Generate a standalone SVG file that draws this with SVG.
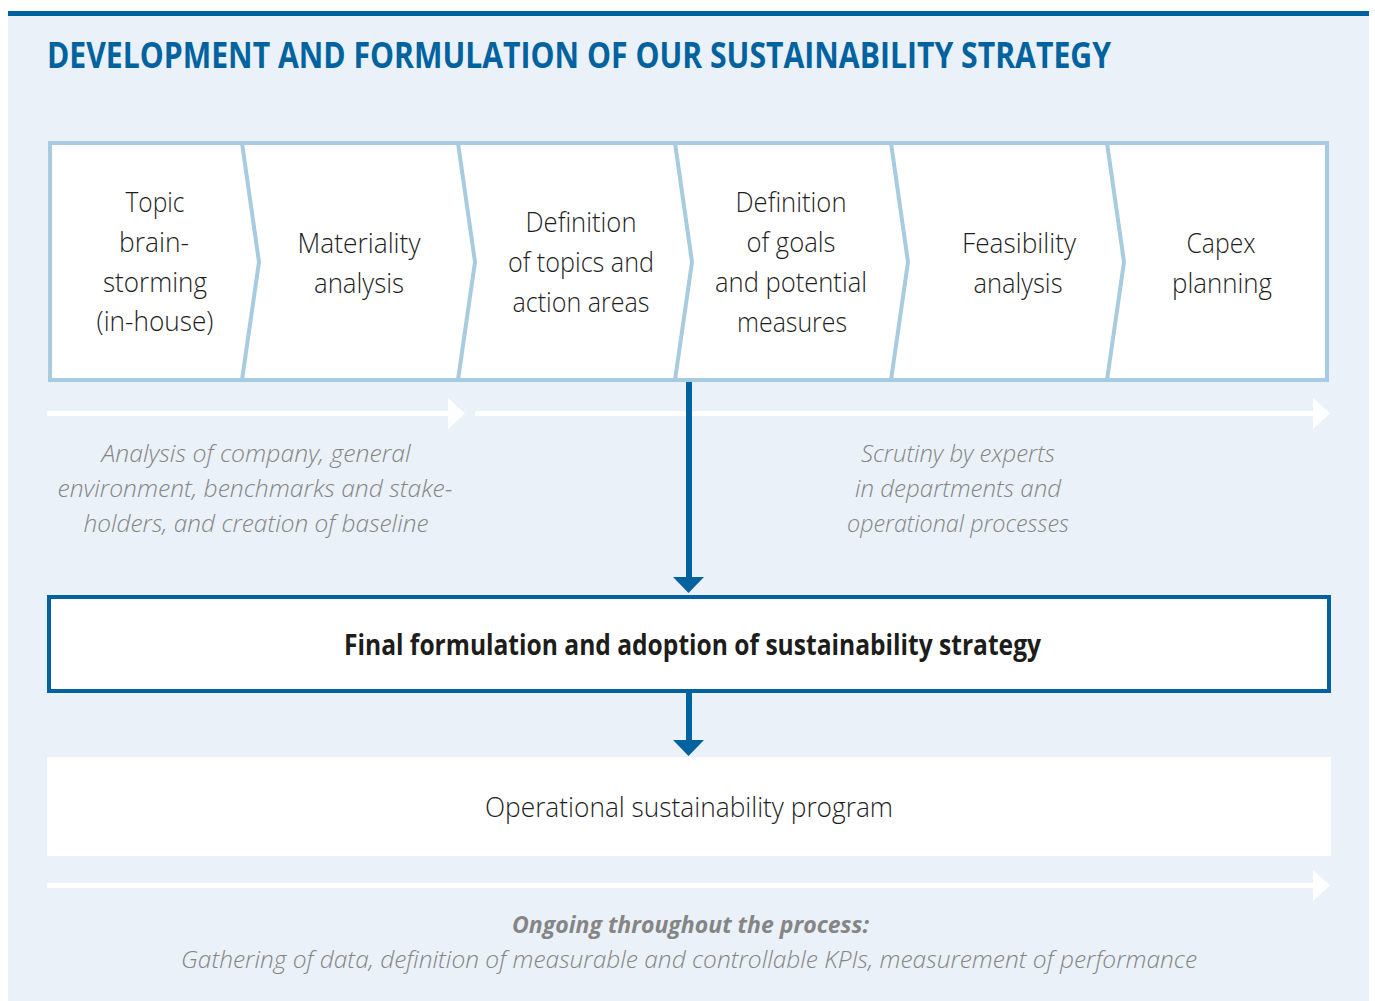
<svg xmlns="http://www.w3.org/2000/svg" width="1375" height="1001" viewBox="0 0 1375 1001">
<style>
.bg{fill:#eaf1f8}
.step{font-family:"Open Sans","Noto Sans",sans-serif;font-size:28px;font-weight:300;fill:#1e1e1e;text-anchor:middle}
.note{font-family:"Open Sans","Noto Sans",sans-serif;font-size:24px;font-style:italic;font-weight:300;fill:#858585;text-anchor:middle}
.notebold{font-weight:bold}
.title{font-family:"Open Sans","Noto Sans",sans-serif;font-size:35px;font-weight:bold;fill:#0063a0}
.bold{font-family:"Open Sans","Noto Sans",sans-serif;font-size:28px;font-weight:bold;fill:#1d1d1b;text-anchor:middle}
.div{fill:none;stroke:#a7cbe1;stroke-width:4}
.white{fill:#ffffff}
.dk{fill:#0063a0}
</style>
<rect class="bg" x="8" y="14" width="1361" height="987"/>
<rect x="8" y="11" width="1361" height="5" fill="#0063a0"/>
<text class="title" x="47" y="68" textLength="1064" lengthAdjust="spacingAndGlyphs">DEVELOPMENT AND FORMULATION OF OUR SUSTAINABILITY STRATEGY</text>

<g id="process">
<rect x="50" y="143" width="1277" height="237" fill="#ffffff" stroke="#a7cbe1" stroke-width="4"/>
<polyline class="div" points="242,143 259,262 242,380"/>
<polyline class="div" points="458,143 475,262 458,380"/>
<polyline class="div" points="675,143 692,262 675,380"/>
<polyline class="div" points="891,143 908,262 891,380"/>
<polyline class="div" points="1107,143 1124,262 1107,380"/>
</g>
<g id="step1">
<text class="step" x="155" y="212" textLength="59" lengthAdjust="spacingAndGlyphs">Topic</text>
<text class="step" x="154" y="252" textLength="70" lengthAdjust="spacingAndGlyphs">brain-</text>
<text class="step" x="155" y="292" textLength="104" lengthAdjust="spacingAndGlyphs">storming</text>
<text class="step" x="155" y="331" textLength="117" lengthAdjust="spacingAndGlyphs">(in-house)</text>
</g>
<g id="step2">
<text class="step" x="359" y="253" textLength="123" lengthAdjust="spacingAndGlyphs">Materiality</text>
<text class="step" x="359" y="293" textLength="90" lengthAdjust="spacingAndGlyphs">analysis</text>
</g>
<g id="step3">
<text class="step" x="581" y="232" textLength="111" lengthAdjust="spacingAndGlyphs">Definition</text>
<text class="step" x="581" y="272" textLength="146" lengthAdjust="spacingAndGlyphs">of topics and</text>
<text class="step" x="581" y="312" textLength="137" lengthAdjust="spacingAndGlyphs">action areas</text>
</g>
<g id="step4">
<text class="step" x="791" y="212" textLength="111" lengthAdjust="spacingAndGlyphs">Definition</text>
<text class="step" x="791" y="252" textLength="89" lengthAdjust="spacingAndGlyphs">of goals</text>
<text class="step" x="791" y="292" textLength="152" lengthAdjust="spacingAndGlyphs">and potential</text>
<text class="step" x="792" y="332" textLength="110" lengthAdjust="spacingAndGlyphs">measures</text>
</g>
<g id="step5">
<text class="step" x="1019" y="253" textLength="114" lengthAdjust="spacingAndGlyphs">Feasibility</text>
<text class="step" x="1018" y="293" textLength="89" lengthAdjust="spacingAndGlyphs">analysis</text>
</g>
<g id="step6">
<text class="step" x="1221" y="253" textLength="69" lengthAdjust="spacingAndGlyphs">Capex</text>
<text class="step" x="1222" y="293" textLength="100" lengthAdjust="spacingAndGlyphs">planning</text>
</g>

<g id="connectors">
<rect class="white" x="47" y="411" width="402" height="5"/>
<polygon class="white" points="448,398 465,413.5 448,429"/>
<rect class="white" x="475" y="411" width="839" height="5"/>
<polygon class="white" points="1313,398 1330,413.5 1313,429"/>
<rect class="dk" x="686" y="382" width="6" height="197"/>
<polygon class="dk" points="673,577 704,577 688.5,593"/>
<rect class="dk" x="686" y="693" width="6" height="48"/>
<polygon class="dk" points="673,740 704,740 688.5,756"/>
<rect class="white" x="47" y="883" width="1267" height="5"/>
<polygon class="white" points="1313,870 1330,885.5 1313,901"/>
</g>

<g id="notes">
<text class="note" x="256" y="462" textLength="309" lengthAdjust="spacingAndGlyphs">Analysis of company, general</text>
<text class="note" x="255" y="497" textLength="395" lengthAdjust="spacingAndGlyphs">environment, benchmarks and stake-</text>
<text class="note" x="256" y="532" textLength="345" lengthAdjust="spacingAndGlyphs">holders, and creation of baseline</text>
<text class="note" x="958" y="462" textLength="194" lengthAdjust="spacingAndGlyphs">Scrutiny by experts</text>
<text class="note" x="958" y="497" textLength="206" lengthAdjust="spacingAndGlyphs">in departments and</text>
<text class="note" x="958" y="532" textLength="222" lengthAdjust="spacingAndGlyphs">operational processes</text>
</g>

<g id="final">
<rect x="49" y="597" width="1280" height="94" fill="#ffffff" stroke="#0063a0" stroke-width="4"/>
<text class="bold" x="692.5" y="655" textLength="697" lengthAdjust="spacingAndGlyphs">Final formulation and adoption of sustainability strategy</text>
</g>

<g id="program">
<rect x="47" y="757" width="1284" height="99" fill="#ffffff"/>
<text class="step" x="689" y="817" textLength="408" lengthAdjust="spacingAndGlyphs">Operational sustainability program</text>
</g>

<g id="ongoing">
<text class="note notebold" x="690.5" y="933" textLength="357" lengthAdjust="spacingAndGlyphs">Ongoing throughout the process:</text>
<text class="note" x="689" y="968" textLength="1016" lengthAdjust="spacingAndGlyphs">Gathering of data, definition of measurable and controllable KPIs, measurement of performance</text>
</g>
</svg>
